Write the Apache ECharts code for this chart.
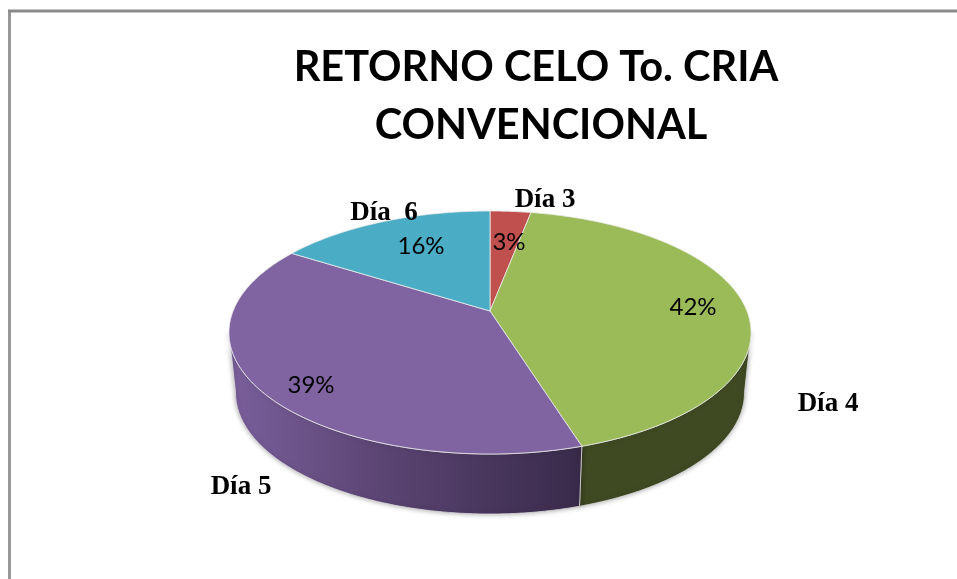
<!DOCTYPE html>
<html>
<head>
<meta charset="utf-8">
<style>html,body{margin:0;padding:0;background:#fff}#c{width:957px;height:579px}</style>
<script src="https://cdn.jsdelivr.net/npm/echarts@6/dist/echarts.min.js"></script>
</head>
<body>
<div id="c"></div>
<script>
const titleText = 'RETORNO CELO To. CRIA \nCONVENCIONAL';
const categories = ['Día 3', 'Día 4', 'Día 5', 'Día  6'];
const values = [3, 42.2, 38.8, 16];

// styling and layout, kept apart from the data
const topColors = ['#c0504d', '#9bbb59', '#8064a2', '#4bacc6'];
const percentAt = [[509, 242], [693, 307], [311, 385], [421, 246]];
const nameAt = [[545, 200], [828, 404], [241, 487], [384, 213]];
const pie = { cx: 490, cy: 311, A: 256.9, B: 117.7, p: 0.177, depth: 60, baseScale: 0.975 };

const total = values.reduce((a, b) => a + b, 0);
const rows = [];
let acc = 0;
values.forEach((v, i) => { rows.push([acc, acc + v, i]); acc += v; });

const toAngle = share => share / total * Math.PI * 2;
function project(theta, base) {
  const w = 1 + pie.p * Math.cos(theta);
  const k = base ? pie.baseScale : 1;
  return [
    pie.cx + k * pie.A * Math.sin(theta) / w,
    pie.cy - pie.B * Math.cos(theta) / w + (base ? pie.depth : 0)
  ];
}
function arc(t0, t1, base) {
  const n = Math.max(2, Math.ceil(Math.abs(t1 - t0) / 0.01));
  const pts = [];
  for (let j = 0; j <= n; j++) pts.push(project(t0 + (t1 - t0) * j / n, base));
  return pts;
}
const silhouette = Math.acos(-pie.p);
function wallFill(i) {
  if (i === 2) {
    return new echarts.graphic.LinearGradient(0, 0, 1, 0, [
      { offset: 0, color: '#7a5f9b' },
      { offset: 0.45, color: '#5a4472' },
      { offset: 1, color: '#392a4a' }
    ]);
  }
  return '#3f4a23';
}

const chart = echarts.init(document.getElementById('c'), null, { renderer: 'canvas' });
chart.setOption({
  animation: false,
  backgroundColor: '#ffffff',
  title: {
    text: titleText,
    left: 536,
    top: 34,
    textAlign: 'center',
    textStyle: { fontFamily: 'Lato', fontWeight: 'bold', fontSize: 41.5, lineHeight: 58, color: '#000000' }
  },
  graphic: [
    { type: 'line', shape: { x1: 9.5, y1: 11, x2: 9.5, y2: 579 }, style: { stroke: '#989898', lineWidth: 3 }, silent: true },
    { type: 'line', shape: { x1: 8, y1: 11, x2: 957, y2: 11 }, style: { stroke: '#8a8a8a', lineWidth: 3 }, silent: true }
  ],
  series: [
    {
      type: 'custom', coordinateSystem: 'none', z: 1, silent: true, data: rows,
      renderItem(params, api) {
        const i = api.value(2);
        const t0 = Math.max(toAngle(api.value(0)), silhouette);
        const t1 = Math.min(toAngle(api.value(1)), Math.PI * 2 - silhouette);
        if (t1 <= t0) return { type: 'group', children: [] };
        const pts = arc(t0, t1, false).concat(arc(t1, t0, true));
        return {
          type: 'polygon',
          shape: { points: pts },
          style: { fill: wallFill(i), stroke: 'rgba(225,225,225,0.75)', lineWidth: 1, shadowBlur: 5, shadowColor: 'rgba(0,0,0,0.35)' }
        };
      }
    },
    {
      type: 'custom', coordinateSystem: 'none', z: 2, silent: true, data: rows,
      renderItem(params, api) {
        const i = api.value(2);
        const pts = [[pie.cx, pie.cy]].concat(arc(toAngle(api.value(0)), toAngle(api.value(1)), false));
        return {
          type: 'polygon',
          shape: { points: pts },
          style: { fill: topColors[i], stroke: 'rgba(235,235,235,0.8)', lineWidth: 1, lineJoin: 'round' }
        };
      }
    },
    {
      type: 'custom', coordinateSystem: 'none', z: 3, silent: true, data: rows,
      renderItem(params, api) {
        const i = api.value(2);
        const share = api.value(1) - api.value(0);
        return {
          type: 'group',
          children: [
            { type: 'text', style: {
              text: Math.round(share / total * 100) + '%',
              x: percentAt[i][0], y: percentAt[i][1], align: 'center', verticalAlign: 'middle',
              font: '24px Lato', fill: '#000000' } },
            { type: 'text', style: {
              text: categories[i],
              x: nameAt[i][0], y: nameAt[i][1], align: 'center', verticalAlign: 'middle',
              font: 'bold 27px "Liberation Serif"', fill: '#000000' } }
          ]
        };
      }
    }
  ]
});
</script>
</body>
</html>
